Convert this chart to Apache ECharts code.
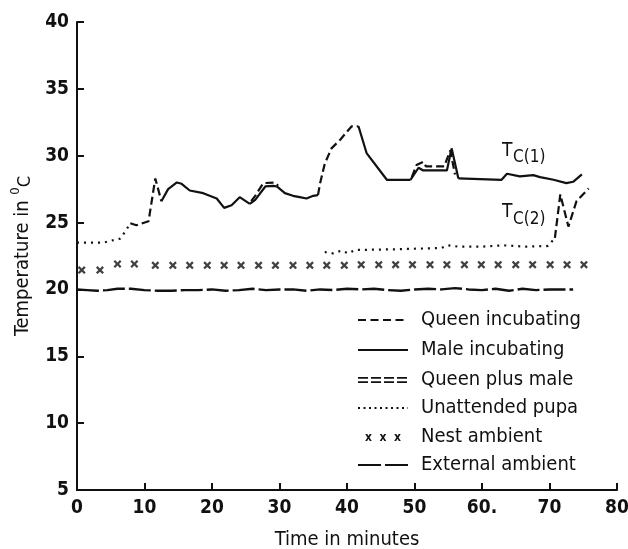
<!DOCTYPE html>
<html>
<head>
<meta charset="utf-8">
<script src="https://cdn.jsdelivr.net/npm/echarts@6/dist/echarts.min.js"></script>
<style>
  html, body { margin: 0; padding: 0; background: #fff; }
  #chart { width: 628px; height: 549px; }
</style>
</head>
<body>
<div id="chart"></div>
<script>
// Tc(1) trace, piece by piece: [minutes, degC]
var pupa1 = [[0, 23.5], [3.9, 23.5], [5.1, 23.65], [6.4, 23.8], [7.1, 24.3], [7.9, 24.95]];
var queen1 = [[7.9, 24.95], [8.8, 24.8], [10.6, 25.1], [11.6, 28.3], [12.5, 26.6]];
var male1 = [[12.5, 26.6], [13.5, 27.5], [14.8, 28.0], [15.5, 27.9], [16.7, 27.4], [18.7, 27.2],
  [20.7, 26.8], [21.8, 26.1], [22.9, 26.3], [24.1, 26.9], [25.6, 26.4]];
var bothLow1 = [[25.6, 26.4], [26.4, 26.7], [27.9, 27.7], [29.1, 27.75], [29.6, 27.7]];
var bothHigh1 = [[25.8, 26.6], [26.4, 27.0], [27.6, 27.95], [29.3, 28.0], [29.8, 27.75]];
var male2 = [[29.6, 27.7], [30.8, 27.2], [32, 27.0], [33, 26.9], [34, 26.8], [35, 27.0], [35.7, 27.05]];
var queen2 = [[35.7, 27.05], [36.0, 27.9], [36.7, 29.4], [37.7, 30.55], [39, 31.2], [40, 31.8],
  [40.7, 32.2], [41.7, 32.2]];
var male3 = [[41.7, 32.2], [42.9, 30.2], [45.9, 28.2], [49.4, 28.2]];
var bothLow2 = [[49.4, 28.2], [50.6, 29.1], [51.3, 28.9], [54.8, 28.9], [55.5, 30.55], [56.5, 28.3]];
var bothHigh2 = [[49.6, 28.4], [50.3, 29.3], [51.3, 29.55], [51.7, 29.2], [54.4, 29.2], [55.3, 30.4], [56.0, 28.6]];
var male4 = [[56.5, 28.3], [62.9, 28.2], [63.7, 28.65], [65.6, 28.45], [67.6, 28.55], [68.6, 28.4],
  [70.6, 28.2], [72.5, 27.95], [73.5, 28.05], [74.8, 28.6]];

// Tc(2) trace
var pupa2 = [[36.7, 22.8], [37.9, 22.7], [39.2, 22.9], [40.2, 22.7], [41.2, 22.95], [47, 23.0],
  [54, 23.1], [55, 23.3], [56.5, 23.2], [60, 23.2], [63.1, 23.3], [66.6, 23.2], [69.8, 23.25], [70.8, 23.85]];
var queen3 = [[70.8, 23.85], [71.6, 27.1], [72.8, 24.7], [74, 26.6], [75.8, 27.55]];

// nest ambient (x marks)
var nestTimes = [0.7, 3.4, 6.0, 8.5, 11.6, 14.2, 16.7, 19.3, 21.8, 24.3, 26.9, 29.4, 32.0, 34.5,
  37.0, 39.6, 42.1, 44.7, 47.2, 49.7, 52.3, 54.8, 57.4, 59.9, 62.4, 65.0, 67.5, 70.1, 72.6, 75.1];
var nestTemps = [21.45, 21.45, 21.9, 21.9, 21.8, 21.8, 21.8, 21.8, 21.8, 21.8, 21.8, 21.8, 21.8, 21.8,
  21.8, 21.8, 21.85, 21.85, 21.85, 21.85, 21.85, 21.85, 21.85, 21.85, 21.85, 21.85, 21.85, 21.85, 21.85, 21.85];

// external ambient
var extTimes = [0, 1.5, 3, 4.5, 6, 8, 10, 12, 14, 16, 18, 20, 22, 24, 26, 28, 30, 32, 34, 36, 38, 40,
  42, 44, 46, 48, 50, 52, 54, 56, 58, 60, 62, 64, 66, 68, 70, 72, 73.5];
var extTemps = [20.0, 19.95, 19.9, 19.95, 20.05, 20.05, 19.95, 19.9, 19.9, 19.95, 19.95, 20.0, 19.9,
  19.95, 20.05, 19.95, 20.0, 20.0, 19.9, 20.0, 19.95, 20.05, 20.0, 20.05, 19.95, 19.9, 20.0, 20.05,
  20.0, 20.1, 20.0, 19.95, 20.05, 19.9, 20.05, 19.95, 20.0, 20.0, 20.0];

var xTickLabels = ['0', '10', '20', '30', '40', '50', '60.', '70', '80'];
var yTickLabels = ['5', '10', '15', '20', '25', '30', '35', '40'];

var legendNames = ['Queen incubating', 'Male incubating', 'Queen plus male',
  'Unattended pupa', 'Nest ambient', 'External ambient'];

var INK = '#111';
var FONT = "'DejaVu Sans Condensed', 'Liberation Sans Narrow', 'DejaVu Sans', sans-serif";

var styles = {
  queen: { color: INK, width: 2.2, type: [8, 4] },
  male: { color: INK, width: 2.2, type: 'solid' },
  pupa: { color: INK, width: 2.2, type: [2, 5] },
  ext: { color: INK, width: 2.4, type: [22, 4] }
};

function seg(data, style) {
  return {
    type: 'line',
    data: data,
    symbol: 'none',
    silent: true,
    animation: false,
    lineStyle: style
  };
}

var series = [
  seg(pupa1, styles.pupa),
  seg(queen1, styles.queen),
  seg(male1, styles.male),
  seg(bothLow1, styles.male),
  seg(bothHigh1, styles.queen),
  seg(male2, styles.male),
  seg(queen2, styles.queen),
  seg(male3, styles.male),
  seg(bothLow2, styles.male),
  seg(bothHigh2, styles.queen),
  seg(male4, styles.male),
  seg(pupa2, styles.pupa),
  seg(queen3, styles.queen),
  seg(extTimes.map(function (t, i) { return [t, extTemps[i]]; }), styles.ext),
  {
    type: 'scatter',
    data: nestTimes.map(function (t, i) { return [t, nestTemps[i]]; }),
    symbol: 'path://M0,2L2,0L5,3L8,0L10,2L7,5L10,8L8,10L5,7L2,10L0,8L3,5Z',
    symbolSize: [8, 8],
    itemStyle: { color: INK },
    silent: true,
    animation: false
  }
];

// legend drawn by hand: sample at 358-408, text from 421
var rowY = [320, 350, 380, 408, 437, 465];
var legend = [];
function hline(y, dash, w) {
  return {
    type: 'line',
    shape: { x1: 358, y1: y, x2: 408, y2: y },
    style: { stroke: INK, lineWidth: w || 2.2, lineDash: dash }
  };
}
legend.push(hline(rowY[0], [8, 4.5]));
legend.push(hline(rowY[1], null));
legend.push(hline(rowY[2] - 2.2, [10, 3], 1.8));
legend.push(hline(rowY[2] + 2.2, [10, 3], 1.8));
legend.push(hline(rowY[3], [2, 3.5]));
legend.push({
  type: 'text', x: 383, y: rowY[4] + 1,
  style: { text: 'x  x  x', fill: INK, font: 'bold 12px ' + FONT, align: 'center', verticalAlign: 'middle' }
});
legend.push(hline(rowY[5], [23, 4]));
legendNames.forEach(function (name, i) {
  legend.push({
    type: 'text', x: 421, y: rowY[i],
    style: { text: name, fill: INK, font: '20px ' + FONT, verticalAlign: 'middle' }
  });
});

// curve labels Tc(1), Tc(2)
legend.push({ type: 'text', x: 502, y: 142, style: { text: 'T', fill: INK, font: '19px ' + FONT } });
legend.push({ type: 'text', x: 513, y: 149, style: { text: 'C(1)', fill: INK, font: '17px ' + FONT } });
legend.push({ type: 'text', x: 502, y: 203, style: { text: 'T', fill: INK, font: '19px ' + FONT } });
legend.push({ type: 'text', x: 513, y: 211, style: { text: 'C(2)', fill: INK, font: '17px ' + FONT } });

var chart = echarts.init(document.getElementById('chart'), null, { renderer: 'canvas' });

chart.setOption({
  backgroundColor: '#fff',
  animation: false,
  grid: { left: 77, right: 11, top: 22, bottom: 59, outerBoundsMode: 'none', containLabel: false },
  xAxis: {
    type: 'value',
    min: 0, max: 80, interval: 10,
    name: 'Time in minutes',
    nameLocation: 'middle',
    nameGap: 40,
    nameTextStyle: { color: INK, fontSize: 20, fontFamily: FONT },
    axisLine: { onZero: false, lineStyle: { color: INK, width: 2 } },
    axisTick: { inside: true, length: 7, lineStyle: { color: INK, width: 2 } },
    axisLabel: {
      color: INK, fontSize: 19, fontWeight: 'bold', fontFamily: FONT, margin: 9,
      formatter: function (v) { return xTickLabels[Math.round(v / 10)]; }
    },
    splitLine: { show: false }
  },
  yAxis: {
    type: 'value',
    min: 5, max: 40, interval: 5,
    name: '{a|Temperature in }{b|0}{c|C}',
    nameLocation: 'middle',
    nameRotate: 90,
    nameGap: 36,
    nameTextStyle: {
      color: INK, fontFamily: FONT,
      rich: {
        a: { fontSize: 20, fontFamily: FONT, color: INK, lineHeight: 30, verticalAlign: 'middle' },
        b: { fontSize: 13, fontFamily: FONT, color: INK, lineHeight: 30, verticalAlign: 'top', padding: [2, 0, 0, 0] },
        c: { fontSize: 18, fontFamily: FONT, color: INK, lineHeight: 30, verticalAlign: 'middle', padding: [6, 0, 0, 0] }
      }
    },
    axisLine: { onZero: false, lineStyle: { color: INK, width: 2 } },
    axisTick: { inside: true, length: 7, lineStyle: { color: INK, width: 2 } },
    axisLabel: {
      color: INK, fontSize: 19, fontWeight: 'bold', fontFamily: FONT, margin: 8,
      formatter: function (v) { return yTickLabels[Math.round((v - 5) / 5)]; }
    },
    splitLine: { show: false }
  },
  graphic: legend,
  series: series
});
</script>
</body>
</html>
